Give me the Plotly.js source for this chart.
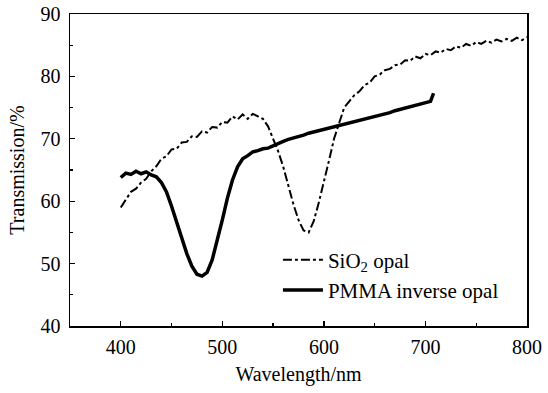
<!DOCTYPE html>
<html>
<head>
<meta charset="utf-8">
<script src="https://cdn.plot.ly/plotly-3.0.1.min.js"></script>
<style>html,body{margin:0;padding:0;background:#fff;}#chart{width:548px;height:393px;}</style>
</head>
<body>
<div id="chart"></div>
<script>
const sio2Wavelength = [400,405,410,415,420,425,430,435,440,445,450,455,460,465,470,475,480,485,490,495,500,505,510,515,520,525,530,535,540,545,550,555,560,565,570,575,580,585,590,595,600,605,610,615,620,625,630,635,640,645,650,655,660,665,670,675,680,685,690,695,700,705,710,715,720,725,730,735,740,745,750,755,760,765,770,775,780,785,790,795,800];
const sio2Transmission = [59.0,60.3,61.5,62.0,63.0,63.6,64.8,65.6,66.8,67.2,68.3,68.4,69.4,69.5,70.4,70.3,71.2,71.0,71.9,71.8,72.7,72.6,73.6,73.1,73.9,73.2,74.0,73.6,73.2,72.0,70.0,68.0,65.5,62.5,59.5,57.0,55.3,55.0,56.8,59.8,63.0,66.5,70.0,72.5,75.0,76.0,77.0,77.6,78.6,79.0,80.0,80.3,81.0,81.2,81.8,81.9,82.6,82.5,83.2,82.9,83.6,83.4,84.0,83.8,84.4,84.2,84.8,84.6,85.2,84.9,85.5,85.2,85.7,85.4,85.9,85.6,86.0,85.7,86.2,85.8,86.3];

const pmmaWavelength = [400,405,410,415,420,425,430,435,440,445,450,455,460,465,470,475,480,485,490,495,500,505,510,515,520,525,530,535,540,545,550,555,560,565,570,575,580,585,590,595,600,605,610,615,620,625,630,635,640,645,650,655,660,665,670,675,680,685,690,695,700,705,708];
const pmmaTransmission = [63.8,64.5,64.3,64.8,64.4,64.7,64.2,63.9,63.0,61.5,59.2,56.6,54.0,51.6,49.6,48.3,48.0,48.6,50.6,53.6,57.0,60.5,63.4,65.5,66.8,67.3,67.9,68.1,68.4,68.5,68.9,69.3,69.6,69.9,70.1,70.4,70.6,70.9,71.1,71.4,71.6,71.8,72.0,72.2,72.4,72.6,72.8,73.0,73.2,73.4,73.6,73.8,74.0,74.2,74.5,74.7,75.0,75.2,75.4,75.6,75.8,76.0,77.3];

const seriesNames = ['SiO<sub>2</sub> opal', 'PMMA inverse opal'];
const xTickValues = [400,500,600,700,800];
const yTickValues = [40,50,60,70,80,90];

const font = 'Liberation Serif, Times New Roman, serif';

const traces = [
  {x: sio2Wavelength, y: sio2Transmission, name: seriesNames[0], mode: 'lines',
   line: {color: '#000', width: 2, dash: 'dashdot'}},
  {x: pmmaWavelength, y: pmmaTransmission, name: seriesNames[1], mode: 'lines',
   line: {color: '#000', width: 3.5}}
];

const axisCommon = {
  showline: true, mirror: true, linecolor: '#000', linewidth: 1.5,
  ticks: 'inside', ticklen: 5, tickwidth: 1.3, tickcolor: '#000',
  showgrid: false, zeroline: false,
  tickfont: {family: font, size: 20, color: '#000'}
};

const layout = {
  width: 548, height: 393,
  margin: {l: 70, r: 21, t: 14, b: 67},
  paper_bgcolor: '#fff', plot_bgcolor: '#fff',
  showlegend: true,
  legend: {x: 0.455, y: 0.277, xanchor: 'left', yanchor: 'top', bgcolor: 'rgba(0,0,0,0)',
           font: {family: font, size: 21, color: '#000'}, tracegroupgap: 0, itemwidth: 40},
  xaxis: Object.assign({}, axisCommon, {
    range: [350, 800], tickvals: xTickValues, ticktext: xTickValues.map(String),
    minor: {dtick: 50, ticks: 'inside', ticklen: 3, tickcolor: '#000', tickwidth: 1.3},
    ticklabelstandoff: 2,
    title: {text: 'Wavelength/nm', font: {family: font, size: 20, color: '#000'}, standoff: 10}
  }),
  yaxis: Object.assign({}, axisCommon, {
    range: [40, 90], tickvals: yTickValues, ticktext: yTickValues.map(String),
    minor: {dtick: 5, ticks: 'inside', ticklen: 3, tickcolor: '#000', tickwidth: 1.3},
    ticklabelstandoff: 4,
    title: {text: 'Transmission/%', font: {family: font, size: 20, color: '#000'}, standoff: 10}
  })
};

Plotly.newPlot('chart', traces, layout, {displayModeBar: false, staticPlot: true});
</script>
</body>
</html>
